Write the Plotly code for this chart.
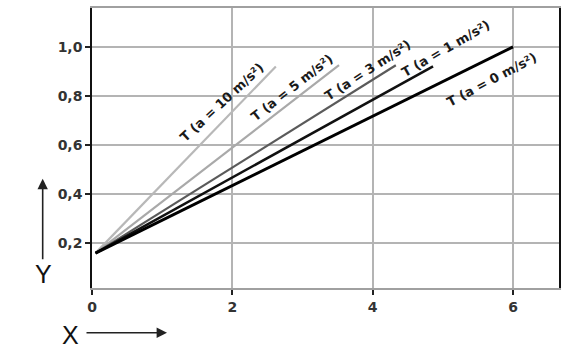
import plotly.graph_objects as go

# Data
accel_labels = ["T (a = 10 m/s²)", "T (a = 5 m/s²)", "T (a = 3 m/s²)", "T (a = 1 m/s²)", "T (a = 0 m/s²)"]
x_start = [0.05, 0.05, 0.05, 0.05, 0.05]
y_start = [0.16, 0.16, 0.16, 0.16, 0.16]
x_end = [2.62, 3.52, 4.33, 4.86, 6.0]
y_end = [0.92, 0.925, 0.925, 0.92, 1.0]

x_tickvals = [0, 2, 4, 6]
x_ticktext = ["0", "2", "4", "6"]
y_tickvals = [0.2, 0.4, 0.6, 0.8, 1.0]
y_ticktext = ["0,2", "0,4", "0,6", "0,8", "1,0"]

# Styles / placements (kept apart from data)
line_colors = ["#b8b8b8", "#a9a9a9", "#5a5a5a", "#111111", "#000000"]
line_widths = [2.2, 2.2, 2.2, 2.6, 3.0]
label_x = [1.85, 2.85, 3.92, 5.04, 5.70]
label_y = [0.772, 0.836, 0.905, 0.994, 0.868]
label_angle = [-43, -38, -33, -30, -28]

fig = go.Figure()
for i in range(len(accel_labels)):
    fig.add_trace(go.Scatter(
        x=[x_start[i], x_end[i]], y=[y_start[i], y_end[i]],
        mode="lines", line=dict(color=line_colors[i], width=line_widths[i]),
        showlegend=False, hoverinfo="skip"))
    fig.add_annotation(
        x=label_x[i], y=label_y[i], xref="x", yref="y", text=accel_labels[i],
        textangle=label_angle[i], showarrow=False,
        font=dict(family="DejaVu Sans", size=13, color="#1a1a1a", weight="bold"))

# Axis titles with arrows
fig.add_annotation(xref="paper", yref="paper", x=0.1606, y=-0.1596, ax=-82, ay=0,
                   axref="pixel", ayref="pixel", text="", showarrow=True,
                   arrowhead=2, arrowsize=1.3, arrowwidth=1.6, arrowcolor="#222")
fig.add_annotation(xref="paper", yref="paper", x=-0.1056, y=0.390, ax=0, ay=82,
                   axref="pixel", ayref="pixel", text="", showarrow=True,
                   arrowhead=2, arrowsize=1.3, arrowwidth=1.6, arrowcolor="#222")
fig.add_annotation(xref="paper", yref="paper", x=-0.045, y=-0.167, text="X",
                   xanchor="center", yanchor="middle", ax=0, ay=0,
                   showarrow=False, font=dict(family="Liberation Sans", size=25, color="#111"))
fig.add_annotation(xref="paper", yref="paper", x=-0.103, y=0.050, text="Y",
                   xanchor="center", yanchor="middle", ax=0, ay=0,
                   showarrow=False, font=dict(family="Liberation Sans", size=25, color="#111"))

fig.update_layout(
    width=570, height=351,
    margin=dict(l=92, r=11, t=6, b=63),
    paper_bgcolor="white", plot_bgcolor="white",
    xaxis=dict(range=[0, 6.655], tickvals=x_tickvals, ticktext=x_ticktext,
               showgrid=True, gridcolor="#b4b4b4", gridwidth=1.5, zeroline=False,
               showline=True, linecolor="#a0a0a0", linewidth=2, mirror=True,
               ticks="outside", ticklen=5, tickwidth=1.5, tickcolor="#222",
               tickfont=dict(family="DejaVu Sans", size=14, color="#333", weight="bold")),
    yaxis=dict(range=[0.018, 1.158], tickvals=y_tickvals, ticktext=y_ticktext,
               showgrid=True, gridcolor="#b4b4b4", gridwidth=1.5, zeroline=False,
               showline=True, linecolor="#111", linewidth=1.5, mirror=True,
               ticks="outside", ticklen=5, tickwidth=1.5, tickcolor="#222",
               tickfont=dict(family="DejaVu Sans", size=14, color="#333", weight="bold")),
)

fig.write_html("out.html")
